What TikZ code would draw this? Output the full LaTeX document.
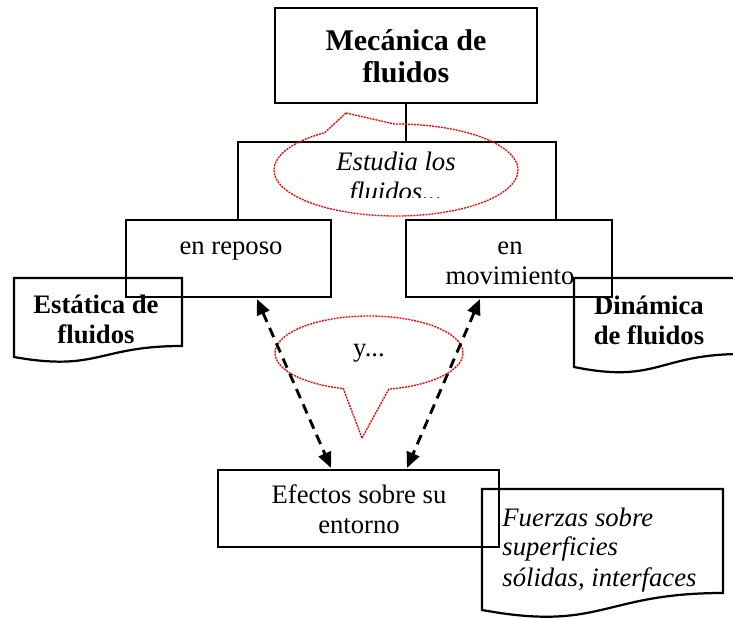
\documentclass[tikz,border=0pt]{standalone}
\usepackage{fontspec}
\setmainfont{Liberation Serif}
\usetikzlibrary{arrows.meta,calc,shapes.callouts}

\newcommand{\pxu}{0.45pt}

\begin{document}
\begin{tikzpicture}[x=0.45pt, y=-0.45pt,
        box/.style={draw, line width=1pt, inner sep=0pt},
        txt/.style={inner sep=0pt, align=center, font=\fontsize{12}{13.5}\selectfont},
        ttl/.style={txt, font=\fontsize{12}{13.5}\selectfont\bfseries},
        note/.style={txt, font=\fontsize{12}{13.5}\selectfont\itshape},
        bubble/.style={ellipse callout, draw=red, line width=0.6pt, dash pattern=on 0.9pt off 0.45pt, inner sep=0pt},
        dasharrow/.style={{Triangle[length=7pt,width=6pt]}-{Triangle[length=7pt,width=6pt]}, line width=1.3pt, dash pattern=on 4.5pt off 3pt}]
    \useasboundingbox (0,0) rectangle (733,618);

    % boxes
    \node[box, minimum width=262*\pxu, minimum height=95*\pxu] (mecanica) at (406,55.5) {};
    \node[box, minimum width=205*\pxu, minimum height=77*\pxu] (reposo) at (228.5,258.5) {};
    \node[box, minimum width=206*\pxu, minimum height=77*\pxu] (movimiento) at (509,258.5) {};
    \node[box, minimum width=281*\pxu, minimum height=77*\pxu] (efectos) at (358.5,508.5) {};

    % documents
    \draw[box] (14,278) -- (182,278) -- (182,346) .. controls (98,346) and (98,372) .. (14,357) -- cycle;
    \draw[box] (574,278) -- (742,278) -- (742,354) .. controls (658,354) and (658,384) .. (574,367) -- cycle;
    \draw[box] (482,489) -- (723,489) -- (723,593) .. controls (602,593) and (602,632) .. (482,610) -- cycle;

    % texts (base = last line)
    \node[ttl, anchor=base, font=\fontsize{13.5}{14.4}\selectfont\bfseries] (mecanicatxt) at (406,82) {Mecánica de\\fluidos};
    \node[txt, anchor=base] (reposotxt) at (231,254) {en reposo};
    \node[txt, anchor=base] (movimientotxt) at (510,284) {en\\movimiento};
    \node[ttl, anchor=base] (estaticatxt) at (96,343) {Estática de\\fluidos};
    \node[ttl, anchor=base] (dinamicatxt) at (649,344) {Dinámica\\de fluidos};
    \node[txt, anchor=base] (efectostxt) at (359,533) {Efectos sobre su\\entorno};
    \node[note, anchor=base west, align=left] (fuerzastxt) at (502,586) {Fuerzas sobre\\superficies\\sólidas, interfaces};

    % tree
    \coordinate (fork) at (406,142);
    \draw[box] (mecanica.south) -- (fork) -| ($(reposo.north)+(9.5,0)$);
    \draw[box] (fork) -| ($(movimiento.north)+(47,0)$);

    % callouts
    \node[bubble, minimum width=244*\pxu, minimum height=92*\pxu,
        callout absolute pointer={(346,113)}, callout pointer arc=35] (estudia) at (396,170) {};
    \begin{scope}
        \clip (237,120) rectangle (556,197);
        \node[note, anchor=base] (estudiatxt) at (396,200) {Estudia los\\fluidos...};
    \end{scope}
    \node[bubble, txt, minimum width=188*\pxu, minimum height=74*\pxu,
        callout absolute pointer={(362,438)}, callout pointer arc=28] (ybubble) at (369,353) {y...};

    \draw[dasharrow] ($(reposo.south)+(28.5,1)$) -- ($(efectos.north)+(-27.5,-1)$);
    \draw[dasharrow] ($(movimiento.south)+(-29,1)$) -- ($(efectos.north)+(48.5,-1)$);
\end{tikzpicture}
\end{document}
